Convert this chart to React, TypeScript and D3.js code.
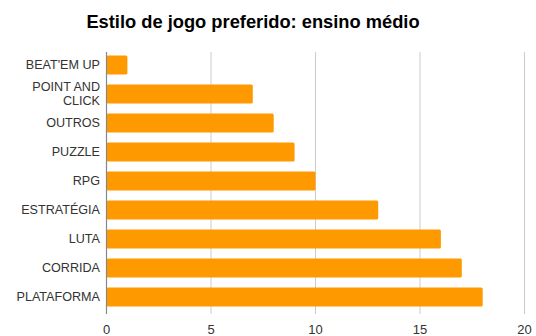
import React from "react";
import * as d3 from "d3";

const categories = ["BEAT'EM UP", "POINT AND CLICK", "OUTROS", "PUZZLE", "RPG", "ESTRATÉGIA", "LUTA", "CORRIDA", "PLATAFORMA"];
const values = [1, 7, 8, 9, 10, 13, 16, 17, 18];
const xTicks = [0, 5, 10, 15, 20];
const labelLines: Record<string, string[]> = { "POINT AND CLICK": ["POINT AND", "CLICK"] };

export default function App() {
  const W = 536, H = 336;
  const x = d3.scaleLinear().domain([0, 20]).range([106.5, 524.5]);
  const y = d3.scaleBand<string>().domain(categories).range([50.5, 311.5]).paddingInner(0.34).paddingOuter(0.17);
  const font = "'Liberation Sans', Arial, sans-serif";
  const lh = 14;
  return (
    <svg width={W} height={H} style={{ position: "absolute", left: 0, top: 0, background: "#fff" }} fontFamily={font}>
      <text x={253} y={28} textAnchor="middle" fontSize={18.3} fontWeight="bold" fill="#000">
        Estilo de jogo preferido: ensino médio
      </text>
      {xTicks.map((t) => (
        <line key={t} x1={x(t)} x2={x(t)} y1={52} y2={314} stroke={t === 0 ? "#888" : "#ccc"} strokeWidth={1} />
      ))}
      {categories.map((c, i) => (
        <rect key={c} x={x(0)} y={y(c)} width={x(values[i]) - x(0)} height={y.bandwidth()} fill="#ff9900" rx={1.5} />
      ))}
      <line x1={x(0)} x2={x(0)} y1={52} y2={314} stroke="#888" strokeWidth={1.2} />
      {categories.map((c) => {
        const lines = labelLines[c] || [c];
        const cy = (y(c) as number) + y.bandwidth() / 2;
        return (
          <text key={c} x={100} y={cy - ((lines.length - 1) * lh) / 2} textAnchor="end" fontSize={12.6} fill="#333" dominantBaseline="central">
            {lines.map((l, k) => (
              <tspan key={k} x={100} dy={k === 0 ? 0 : lh}>{l}</tspan>
            ))}
          </text>
        );
      })}
      {xTicks.map((t) => (
        <text key={t} x={x(t)} y={334} textAnchor="middle" fontSize={13} fill="#333">
          {t}
        </text>
      ))}
    </svg>
  );
}
